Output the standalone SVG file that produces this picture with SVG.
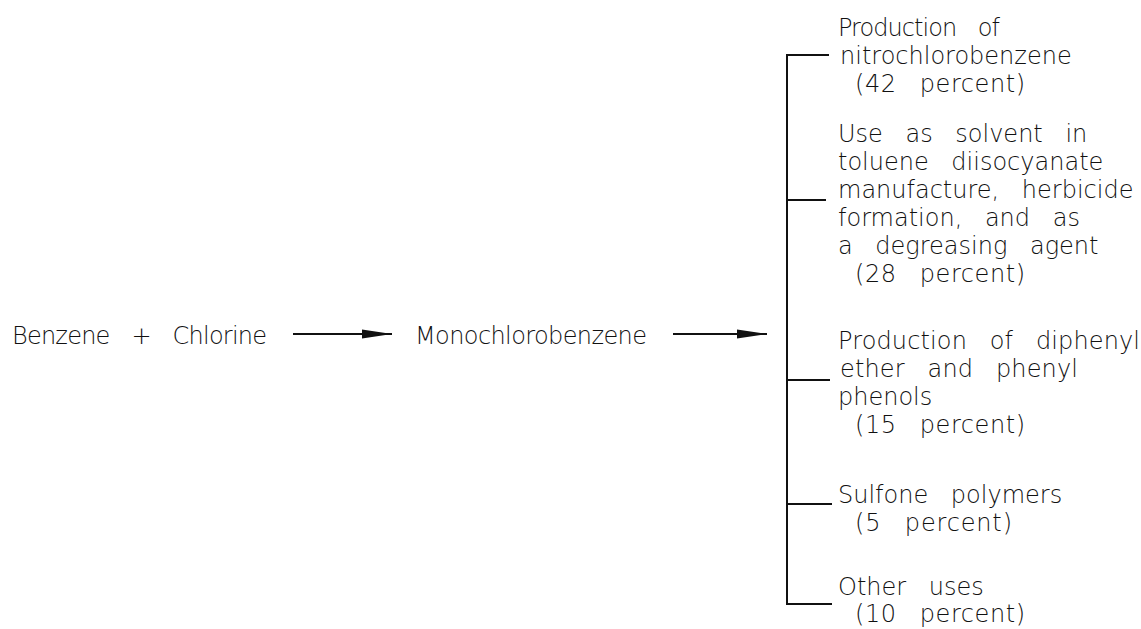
<svg xmlns="http://www.w3.org/2000/svg" width="1141" height="629" viewBox="0 0 1141 629">
<style>
text{font-family:"DejaVu Sans","Liberation Sans",sans-serif;font-size:24px;font-weight:300;fill:#111;word-spacing:15px}
.ln{stroke:#111;stroke-width:2;fill:none}
</style>
<defs>
<marker id="ah" markerWidth="30" markerHeight="10" refX="30" refY="5" orient="auto" markerUnits="userSpaceOnUse">
<path d="M0,0.5 L30,5 L0,9.5 Z" fill="#111"/>
</marker>
</defs>
<rect width="1141" height="629" fill="#fff"/>
<g id="benzene"><text x="12" y="344" textLength="255" lengthAdjust="spacing">Benzene + Chlorine</text></g>
<g id="mcb"><text x="415" y="344" textLength="232" lengthAdjust="spacing">Monochlorobenzene</text></g>
<g id="use1">
<text x="838" y="36" textLength="162" lengthAdjust="spacing">Production of</text>
<text x="840" y="64">nitrochlorobenzene</text>
<text x="855" y="92" textLength="170" lengthAdjust="spacing">(42 percent)</text>
</g>
<g id="use2">
<text x="838" y="142">Use as solvent in</text>
<text x="838" y="170">toluene diisocyanate</text>
<text x="838" y="198">manufacture, herbicide</text>
<text x="838" y="226">formation, and as</text>
<text x="838" y="254">a degreasing agent</text>
<text x="855" y="282" textLength="170" lengthAdjust="spacing">(28 percent)</text>
</g>
<g id="use3">
<text x="838" y="349" textLength="302" lengthAdjust="spacing">Production of diphenyl</text>
<text x="840" y="377" textLength="238" lengthAdjust="spacing">ether and phenyl</text>
<text x="838" y="405">phenols</text>
<text x="855" y="433" textLength="170" lengthAdjust="spacing">(15 percent)</text>
</g>
<g id="use4">
<text x="838" y="503">Sulfone polymers</text>
<text x="855" y="531" textLength="157" lengthAdjust="spacing">(5 percent)</text>
</g>
<g id="use5">
<text x="838" y="595">Other uses</text>
<text x="855" y="622" textLength="170" lengthAdjust="spacing">(10 percent)</text>
</g>
<g id="connectors">
<line class="ln" x1="293" y1="334" x2="392" y2="334" marker-end="url(#ah)"/>
<line class="ln" x1="673" y1="334" x2="767" y2="334" marker-end="url(#ah)"/>
<polyline class="ln" points="829,55 787,55 787,604 832,604"/>
<line class="ln" x1="787" y1="200" x2="826" y2="200"/>
<line class="ln" x1="787" y1="380" x2="830" y2="380"/>
<line class="ln" x1="787" y1="504" x2="832" y2="504"/>
</g>
</svg>
